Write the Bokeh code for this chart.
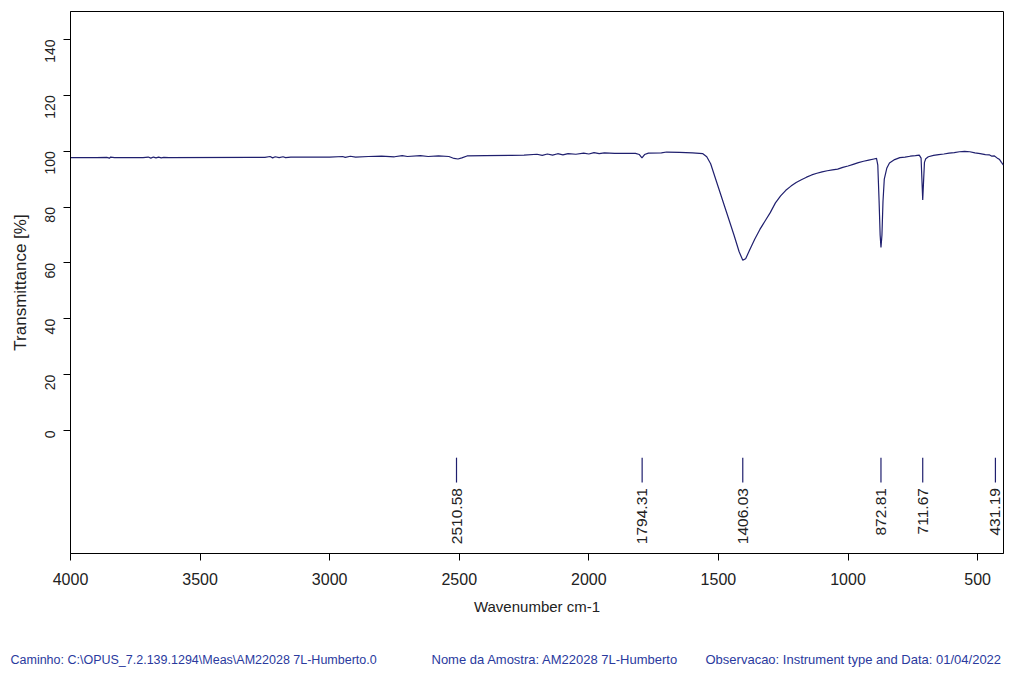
import math
from bokeh.plotting import figure
from bokeh.layouts import column
from bokeh.models import Range1d, FixedTicker, ColumnDataSource
from bokeh.core.properties import value
from bokeh.embed import file_html
from bokeh.resources import INLINE

# ---------------- data ----------------
wavenumber = [
    4000, 3900, 3860, 3850, 3845, 3830, 3720, 3700, 3690, 3680, 3670, 3660, 3650, 3640,
    3620, 3300, 3250, 3230, 3220, 3210, 3195, 3180, 3170, 3150, 3000, 2950, 2940, 2920,
    2900, 2850, 2800, 2750, 2720, 2700, 2650, 2620, 2580, 2540, 2520, 2505, 2490, 2470,
    2400, 2300, 2250, 2200, 2180, 2160, 2140, 2120, 2100, 2080, 2050, 2020, 2000, 1980,
    1960, 1940, 1900, 1820, 1805, 1795, 1785, 1770, 1720, 1700, 1650, 1600, 1560, 1545,
    1530, 1500, 1470, 1440, 1420, 1406, 1395, 1380, 1360, 1340, 1320, 1300, 1280, 1260,
    1240, 1220, 1200, 1180, 1160, 1140, 1120, 1100, 1080, 1060, 1040, 1020, 1000, 980,
    960, 940, 920, 900, 890, 885, 880, 876, 872.8, 869, 865, 860, 850, 840, 820, 800,
    780, 760, 740, 725, 718, 714, 711.7, 709, 705, 700, 690, 670, 650, 630, 610, 590,
    570, 550, 530, 510, 490, 470, 455, 445, 435, 425, 415, 408, 400,
]
transmittance = [
    97.7, 97.7, 97.8, 97.5, 97.9, 97.7, 97.7, 97.9, 97.5, 97.9, 97.6, 97.9, 97.6, 97.8,
    97.7, 97.8, 97.8, 98.1, 97.6, 98.0, 97.7, 98.0, 97.7, 97.9, 97.9, 98.1, 97.8, 98.2,
    97.9, 98.1, 98.2, 98.0, 98.4, 98.1, 98.4, 98.1, 98.3, 98.1, 97.4, 97.2, 97.6, 98.3,
    98.4, 98.5, 98.6, 98.9, 98.5, 99.0, 98.6, 99.1, 98.7, 99.1, 98.9, 99.3, 99.0, 99.5,
    99.1, 99.4, 99.2, 99.2, 98.8, 97.6, 98.8, 99.3, 99.4, 99.7, 99.6, 99.4, 99.1, 98.0,
    95.5, 87.0, 78.5, 70.0, 64.0, 61.0, 61.5, 64.5, 68.5, 72.0, 75.0, 78.0, 81.5, 84.0,
    86.0, 87.5, 88.8, 89.8, 90.7, 91.5, 92.1, 92.6, 93.0, 93.3, 93.6, 94.2, 94.7, 95.3,
    95.9, 96.4, 96.8, 97.2, 97.4, 95.0, 82.0, 70.0, 65.5, 70.0, 82.0, 90.0, 94.0, 95.8,
    97.0, 97.7, 97.9, 98.2, 98.4, 98.6, 97.5, 88.0, 82.5, 88.0, 96.0, 97.3, 98.0, 98.5,
    98.8, 99.0, 99.3, 99.5, 99.8, 99.9, 99.8, 99.4, 99.1, 98.8, 98.7, 98.2, 98.3, 97.6,
    97.0, 96.0, 95.0,
]
peak_wavenumbers = [2510.58, 1794.31, 1406.03, 872.81, 711.67, 431.19]
peak_labels = ["2510.58", "1794.31", "1406.03", "872.81", "711.67", "431.19"]
x_ticks = [500, 1000, 1500, 2000, 2500, 3000, 3500, 4000]
y_ticks = [0, 20, 40, 60, 80, 100, 120, 140]
footer_texts = [
    "Caminho: C:\\OPUS_7.2.139.1294\\Meas\\AM22028 7L-Humberto.0",
    "Nome da Amostra:  AM22028 7L-Humberto",
    "Observacao:  Instrument type and Data: 01/04/2022",
]

# ---------------- styling ----------------
FONT = "Liberation Sans"
LINE_COLOR = "#1f1f6e"
FOOT_COLOR = "#2a3a9e"
TEXT_COLOR = "#222222"

p = figure(width=1011, height=622, output_backend="svg", toolbar_location=None,
           x_range=Range1d(4000, 400), y_range=Range1d(-44, 150),
           min_border_left=70, min_border_right=8, min_border_top=11, min_border_bottom=69)
p.frame_align = False

p.grid.visible = False
p.outline_line_color = "black"
p.outline_line_width = 1
p.outline_line_alpha = 1
p.background_fill_color = "white"
p.border_fill_color = "white"

# spectrum
p.line(wavenumber, transmittance, line_color=LINE_COLOR, line_width=1.2)

# peak markers
peak_src = ColumnDataSource(dict(x=peak_wavenumbers, label=peak_labels))
p.segment(x0="x", y0=-9.7, x1="x", y1=-18.6, source=peak_src, line_color=LINE_COLOR, line_width=1.2)
p.text(x="x", y=-20.6, text="label", source=peak_src, angle=math.pi / 2,
       text_align="right", text_baseline="middle", text_font=value(FONT),
       text_font_size="15.5px", text_color=TEXT_COLOR)

# axes
xa = p.xaxis[0]
xa.ticker = FixedTicker(ticks=x_ticks)
xa.axis_label = "Wavenumber cm-1"
xa.axis_label_text_font = FONT
xa.axis_label_text_font_style = "normal"
xa.axis_label_text_font_size = "15px"
xa.axis_label_text_color = TEXT_COLOR
xa.axis_label_standoff = 10
xa.major_label_text_font = FONT
xa.major_label_text_font_size = "16px"
xa.major_label_text_color = TEXT_COLOR
xa.major_label_standoff = 12
xa.major_tick_out = 7
xa.major_tick_in = 0
xa.minor_tick_out = 0
xa.minor_tick_in = 0
xa.axis_line_color = "black"
xa.major_tick_line_color = "black"

ya = p.yaxis[0]
ya.ticker = FixedTicker(ticks=y_ticks)
ya.axis_label = "Transmittance [%]"
ya.axis_label_text_font = FONT
ya.axis_label_text_font_style = "normal"
ya.axis_label_text_font_size = "17px"
ya.axis_label_text_color = TEXT_COLOR
ya.axis_label_standoff = 8
ya.major_label_text_font = FONT
ya.major_label_text_font_size = "14px"
ya.major_label_text_color = TEXT_COLOR
ya.major_label_orientation = math.pi / 2
ya.major_label_standoff = 13
ya.major_tick_out = 7
ya.major_tick_in = 0
ya.minor_tick_out = 0
ya.minor_tick_in = 0
ya.axis_line_color = "black"
ya.major_tick_line_color = "black"

# ---------------- footer strip ----------------
FOOT_W, FOOT_H = 1011, 50
f = figure(width=FOOT_W, height=FOOT_H, output_backend="svg", toolbar_location=None,
           x_range=Range1d(0, FOOT_W), y_range=Range1d(0, FOOT_H),
           x_axis_type=None, y_axis_type=None,
           min_border=0, min_border_left=0, min_border_right=0, min_border_top=0, min_border_bottom=0)
f.frame_align = False
f.grid.visible = False
f.outline_line_color = None
f.background_fill_color = "white"
f.border_fill_color = "white"
foot_src = ColumnDataSource(dict(x=[10, 431, 705], y=[13, 13, 13], t=footer_texts,
                                 s=["12.5px", "13px", "13px"]))
f.text(x="x", y="y", text="t", source=foot_src, text_font=value(FONT),
       text_font_size="s", text_color=FOOT_COLOR, text_baseline="middle", text_align="left")

layout = column(p, f, spacing=0)
open("out.html", "w").write(file_html(layout, INLINE))
